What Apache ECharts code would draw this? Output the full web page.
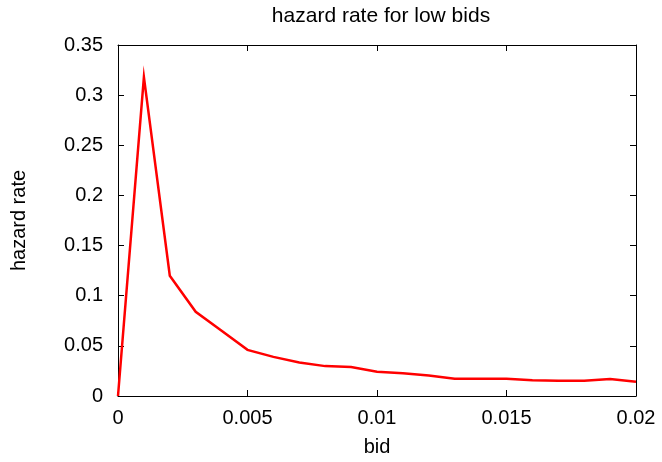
<!DOCTYPE html>
<html>
<head>
<meta charset="utf-8">
<script src="https://cdn.jsdelivr.net/npm/echarts@6/dist/echarts.min.js"></script>
<style>html,body{margin:0;padding:0;background:#fff;}#c{width:662px;height:462px;}</style>
</head>
<body>
<div id="c"></div>
<script>
const bids = [0, 0.001, 0.002, 0.003, 0.004, 0.005, 0.006, 0.007, 0.008, 0.009, 0.010,
              0.011, 0.012, 0.013, 0.014, 0.015, 0.016, 0.017, 0.018, 0.019, 0.020];
const hazard = [0, 0.318, 0.12, 0.084, 0.065, 0.046, 0.039, 0.0335, 0.0298, 0.0288, 0.0242,
                0.0226, 0.0205, 0.0172, 0.0172, 0.0172, 0.0158, 0.0152, 0.0152, 0.0169, 0.0142];
const titleText = 'hazard rate for low bids';
const xName = 'bid';
const yName = 'hazard rate';

const font = 'Liberation Sans, Arial, sans-serif';
const fs = 20;
const fmt = v => String(parseFloat(v.toFixed(4)));
const chart = echarts.init(document.getElementById('c'), null, {renderer: 'canvas'});
const tickStyle = {show: true, inside: true, length: 6, lineStyle: {color: '#000', width: 1}};
const lineStyle = {show: true, onZero: false, lineStyle: {color: '#000', width: 1}};
chart.setOption({
  animation: false,
  backgroundColor: '#fff',
  title: {text: titleText, left: 376, top: 1, textAlign: 'center',
    textStyle: {fontFamily: font, fontSize: 21, fontWeight: 'normal', color: '#000'}},
  grid: {left: 118, top: 45, right: 26, bottom: 65, containLabel: false},
  xAxis: [{
    type: 'value', min: 0, max: 0.02, interval: 0.005,
    name: xName, nameLocation: 'middle', nameGap: 41,
    nameTextStyle: {fontFamily: font, fontSize: fs, color: '#000'},
    axisLine: lineStyle, axisTick: tickStyle, splitLine: {show: false},
    axisLabel: {margin: 12, fontFamily: font, fontSize: fs, color: '#000', formatter: fmt}
  }, {
    type: 'value', position: 'top', min: 0, max: 0.02, interval: 0.005,
    axisLine: lineStyle, axisTick: tickStyle, splitLine: {show: false}, axisLabel: {show: false}
  }],
  yAxis: [{
    type: 'value', min: 0, max: 0.35, interval: 0.05,
    name: yName, nameLocation: 'middle', nameGap: 89, nameRotate: 90,
    nameTextStyle: {fontFamily: font, fontSize: fs, color: '#000'},
    axisLine: lineStyle, axisTick: tickStyle, splitLine: {show: false},
    axisLabel: {margin: 15, fontFamily: font, fontSize: fs, color: '#000', formatter: fmt}
  }, {
    type: 'value', position: 'right', min: 0, max: 0.35, interval: 0.05,
    axisLine: lineStyle, axisTick: tickStyle, splitLine: {show: false}, axisLabel: {show: false}
  }],
  series: [{
    type: 'line', xAxisIndex: 0, yAxisIndex: 0,
    data: bids.map((b, i) => [b, hazard[i]]),
    showSymbol: false, symbol: 'none',
    lineStyle: {color: '#ff0000', width: 2.5, join: 'miter'},
    clip: true
  }]
});
</script>
</body>
</html>
